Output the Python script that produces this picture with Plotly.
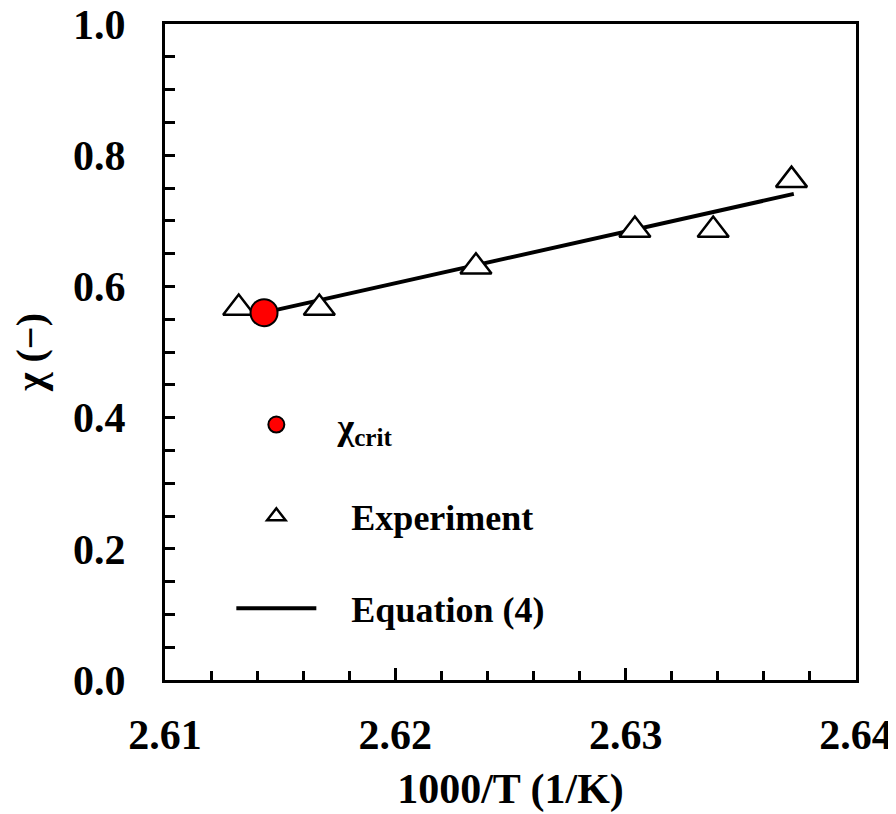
import plotly.graph_objects as go

# Data
exp_x = [2.6132, 2.6167, 2.6235, 2.6304, 2.6338, 2.6372]
exp_y = [0.567, 0.567, 0.630, 0.686, 0.686, 0.762]
crit_x = [2.6143]
crit_y = [0.560]
eq_x = [2.6143, 2.6373]
eq_y = [0.560, 0.741]

x_ticks = [2.61, 2.62, 2.63, 2.64]
x_tick_text = ["2.61", "2.62", "2.63", "2.64"]
y_ticks = [0.0, 0.2, 0.4, 0.6, 0.8, 1.0]
y_tick_text = ["0.0", "0.2", "0.4", "0.6", "0.8", "1.0"]

FONT = "Liberation Serif"
NB = "\u00a0"

fig = go.Figure()
fig.add_trace(go.Scatter(
    x=eq_x, y=eq_y, mode="lines", name=NB * 3 + "\u200a" + "Equation (4)",
    line=dict(color="black", width=4),
    legendgroup="c", legendrank=3,
))
fig.add_trace(go.Scatter(
    x=exp_x, y=exp_y, mode="markers", name=NB * 3 + "\u200a" + "Experiment",
    marker=dict(symbol="triangle-up", size=27, color="white",
                line=dict(color="black", width=2.5)),
    legendgroup="b", legendrank=2,
))
fig.add_trace(go.Scatter(
    x=crit_x, y=crit_y, mode="markers", name=NB + "\u2009" + "χ<sub>crit</sub>",
    marker=dict(symbol="circle", size=27, color="#ff0000",
                line=dict(color="black", width=2)),
    legendgroup="a", legendrank=1,
))

axis_font = dict(family=FONT, size=42, color="black", weight="bold")

fig.update_layout(
    width=896, height=814,
    margin=dict(l=157, r=48, t=16, b=142),
    paper_bgcolor="white", plot_bgcolor="white",
    font=dict(family=FONT, color="black"),
    legend=dict(
        x=0.096, y=0.435, xanchor="left", yanchor="top",
        font=dict(family=FONT, size=36, color="black", weight="bold"),
        traceorder="grouped", tracegroupgap=42,
        itemwidth=80, itemsizing="trace",
        bgcolor="rgba(0,0,0,0)",
    ),
    showlegend=True,
)
fig.update_xaxes(
    range=[2.61, 2.64], tickvals=x_ticks, ticktext=x_tick_text,
    ticks="inside", ticklen=12, tickwidth=2.5, tickcolor="black",
    minor=dict(dtick=0.002, tick0=2.61, ticks="inside", ticklen=9,
               tickwidth=2.5, tickcolor="black"),
    showline=True, linewidth=3, linecolor="black", mirror=True,
    showgrid=False, zeroline=False, automargin=False,
    ticklabeloverflow="allow",
    tickfont=axis_font, ticklabelstandoff=16,
    title=dict(text="1000/T (1/K)", font=axis_font, standoff=17),
)
fig.update_yaxes(
    range=[0.0, 1.0], tickvals=y_ticks, ticktext=y_tick_text,
    ticks="inside", ticklen=10, tickwidth=2.5, tickcolor="black",
    minor=dict(dtick=0.05, tick0=0, ticks="inside", ticklen=10,
               tickwidth=2.5, tickcolor="black"),
    showline=True, linewidth=3, linecolor="black", mirror=True,
    showgrid=False, zeroline=False, automargin=False,
    ticklabeloverflow="allow",
    tickfont=axis_font, ticklabelstandoff=28,
    title=dict(text="χ (−)", font=dict(family=FONT, size=40, color="black", weight="bold"), standoff=19),
)

fig.write_html("out.html")
